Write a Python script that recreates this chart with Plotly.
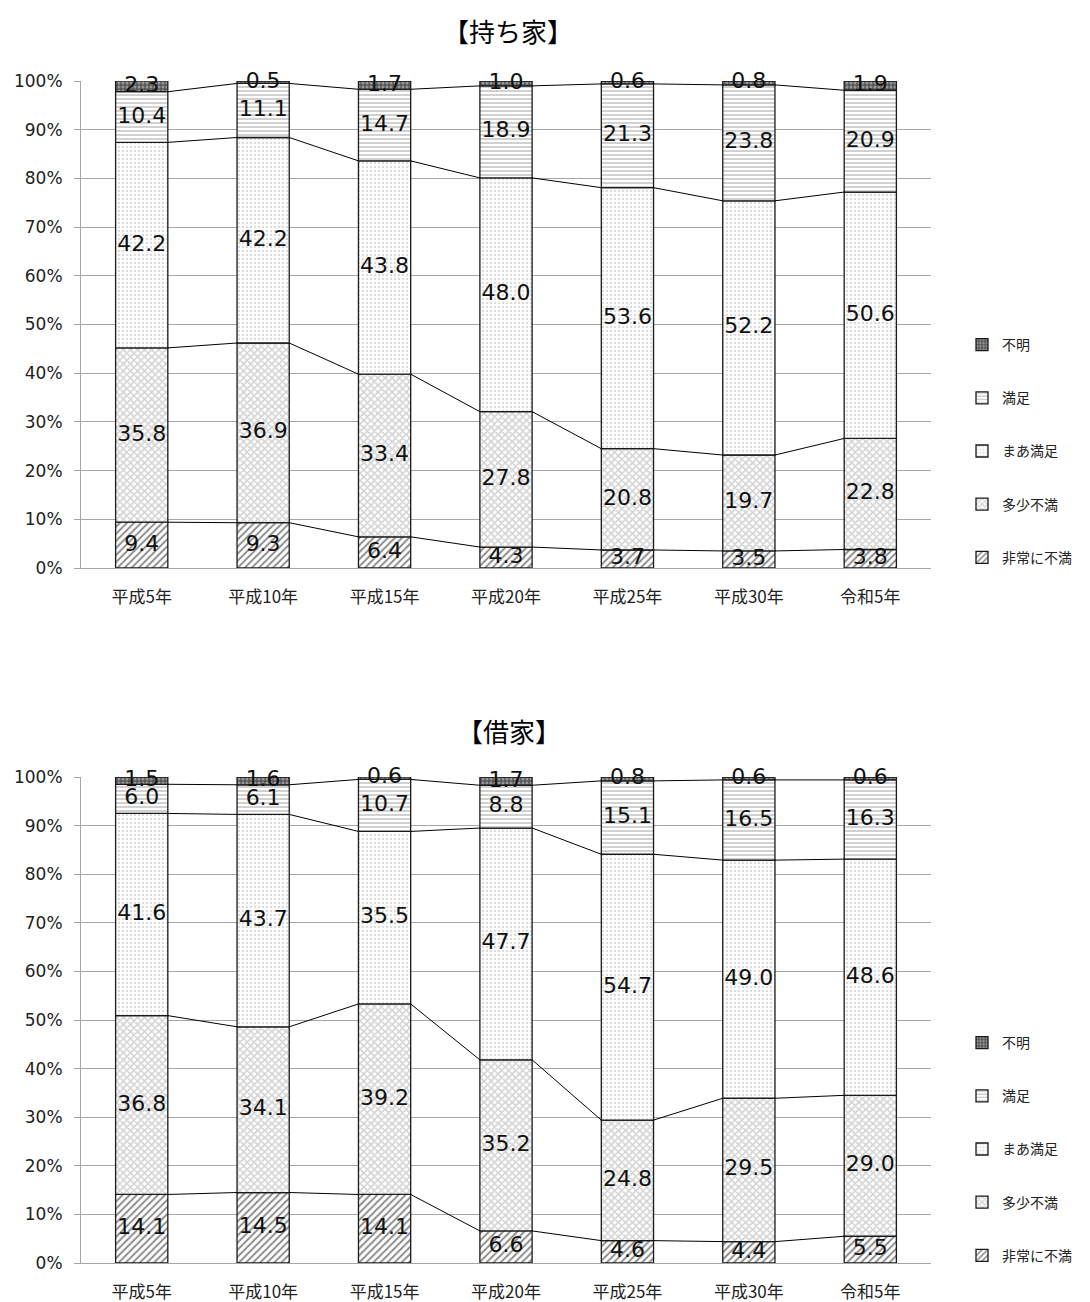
import plotly.graph_objects as go

# Survey years (x categories) and satisfaction categories (stack order, bottom to top)
years = ["平成5年", "平成10年", "平成15年", "平成20年", "平成25年", "平成30年", "令和5年"]
series_names = ["非常に不満", "多少不満", "まあ満足", "満足", "不明"]

# 持ち家 (owner-occupied), percent
own_very_dissatisfied = [9.4, 9.3, 6.4, 4.3, 3.7, 3.5, 3.8]
own_somewhat_dissatisfied = [35.8, 36.9, 33.4, 27.8, 20.8, 19.7, 22.8]
own_fairly_satisfied = [42.2, 42.2, 43.8, 48.0, 53.6, 52.2, 50.6]
own_satisfied = [10.4, 11.1, 14.7, 18.9, 21.3, 23.8, 20.9]
own_unknown = [2.3, 0.5, 1.7, 1.0, 0.6, 0.8, 1.9]

# 借家 (rented), percent
rent_very_dissatisfied = [14.1, 14.5, 14.1, 6.6, 4.6, 4.4, 5.5]
rent_somewhat_dissatisfied = [36.8, 34.1, 39.2, 35.2, 24.8, 29.5, 29.0]
rent_fairly_satisfied = [41.6, 43.7, 35.5, 47.7, 54.7, 49.0, 48.6]
rent_satisfied = [6.0, 6.1, 10.7, 8.8, 15.1, 16.5, 16.3]
rent_unknown = [1.5, 1.6, 0.6, 1.7, 0.8, 0.6, 0.6]

own_series = [own_very_dissatisfied, own_somewhat_dissatisfied, own_fairly_satisfied,
              own_satisfied, own_unknown]
rent_series = [rent_very_dissatisfied, rent_somewhat_dissatisfied, rent_fairly_satisfied,
               rent_satisfied, rent_unknown]

# Fill patterns per category (monochrome hatching)
patterns = [
    dict(shape="/", fgcolor="#1a1a1a", bgcolor="white", size=5, solidity=0.4),
    dict(shape="x", fgcolor="#a8a8a8", bgcolor="white", size=5, solidity=0.55),
    dict(shape=".", fgcolor="#b8b8b8", bgcolor="white", size=4, solidity=0.3),
    dict(shape="-", fgcolor="#9a9a9a", bgcolor="white", size=4, solidity=0.45),
    dict(shape=".", fgcolor="#d8d8d8", bgcolor="#555555", size=4, solidity=0.45),
]

BAR_W = 0.43
GRID = "#a6a6a6"
NUM_FONT = "DejaVu Sans, Noto Sans CJK JP"
JP_FONT = "Noto Sans CJK JP"

fig = go.Figure()
xs = list(range(len(years)))


def add_chart(series, xref, yref, legend, group_prefix):
    bases = [0.0] * len(years)
    tops_by_series = []
    lab_x, lab_y, lab_t = [], [], []
    for k, (name, vals) in enumerate(zip(series_names, series)):
        fig.add_trace(go.Bar(
            x=xs, y=vals, base=bases[:], width=BAR_W, name=name,
            marker=dict(pattern=patterns[k], line=dict(color="#1a1a1a", width=1.3)),
            xaxis=xref, yaxis=yref, legend=legend,
            legendgroup=f"{group_prefix}{k}", legendrank=len(series_names) - k,
            hoverinfo="skip",
        ))
        for i, v in enumerate(vals):
            lab_x.append(i)
            lab_y.append(bases[i] + v / 2)
            lab_t.append(f"{v:.1f}")
        bases = [b + v for b, v in zip(bases, vals)]
        tops_by_series.append(bases[:])

    # series lines joining the stack boundaries of neighbouring bars
    lx, ly = [], []
    for tops in tops_by_series[:-1]:
        for i in range(len(years) - 1):
            lx += [i + BAR_W / 2, i + 1 - BAR_W / 2, None]
            ly += [tops[i], tops[i + 1], None]
    fig.add_trace(go.Scatter(
        x=lx, y=ly, mode="lines", line=dict(color="black", width=1),
        xaxis=xref, yaxis=yref, showlegend=False, hoverinfo="skip",
    ))

    fig.add_trace(go.Scatter(
        x=lab_x, y=lab_y, text=lab_t, mode="text",
        textfont=dict(family=NUM_FONT, size=22, color="#111111"),
        textposition="middle center",
        xaxis=xref, yaxis=yref, showlegend=False, hoverinfo="skip", cliponaxis=False,
    ))


add_chart(own_series, "x", "y", "legend", "own")
add_chart(rent_series, "x2", "y2", "legend2", "rent")

W, H = 1090, 1302
x_dom = [81 / W, 931 / W]


def xaxis_cfg():
    return dict(domain=x_dom, range=[-0.5, 6.5], tickvals=xs, ticktext=years,
                showgrid=False, zeroline=False, showline=True, linecolor=GRID,
                linewidth=1, ticks="", ticklabelstandoff=14, automargin=False,
                tickfont=dict(family=JP_FONT, size=17, color="#222"),
                fixedrange=True)


def yaxis_cfg(dom, anchor):
    return dict(domain=dom, range=[0, 100], dtick=10, ticksuffix="%",
                showgrid=True, gridcolor=GRID, gridwidth=1, zeroline=False,
                showline=True, linecolor=GRID, linewidth=1,
                ticks="outside", ticklen=6, tickcolor=GRID, ticklabelstandoff=8,
                tickfont=dict(family=NUM_FONT, size=17, color="#222"),
                anchor=anchor, fixedrange=True, automargin=False)


legend_common = dict(
    orientation="v", traceorder="grouped", tracegroupgap=32,
    font=dict(family=JP_FONT, size=14, color="#222"),
    xanchor="left", yanchor="top", bgcolor="rgba(0,0,0,0)", itemwidth=30,
)

fig.update_layout(
    width=W, height=H,
    margin=dict(l=0, r=0, t=0, b=0, autoexpand=False),
    paper_bgcolor="white", plot_bgcolor="white",
    barmode="overlay",
    xaxis=dict(**xaxis_cfg(), anchor="y"),
    yaxis=yaxis_cfg([1 - 568 / H, 1 - 81 / H], "x"),
    xaxis2=dict(**xaxis_cfg(), anchor="y2"),
    yaxis2=yaxis_cfg([1 - 1263 / H, 1 - 777 / H], "x2"),
    legend=dict(**legend_common, x=962 / W, y=1 - 329 / H),
    legend2=dict(**legend_common, x=962 / W, y=1 - 1027 / H),
    annotations=[
        dict(text="【持ち家】", x=508 / W, y=1 - 30 / H, xref="paper", yref="paper",
             showarrow=False, font=dict(family=JP_FONT, size=26, color="black"),
             xanchor="center", yanchor="middle"),
        dict(text="【借家】", x=509 / W, y=1 - 730 / H, xref="paper", yref="paper",
             showarrow=False, font=dict(family=JP_FONT, size=26, color="black"),
             xanchor="center", yanchor="middle"),
    ],
)

fig.write_html("out.html")
